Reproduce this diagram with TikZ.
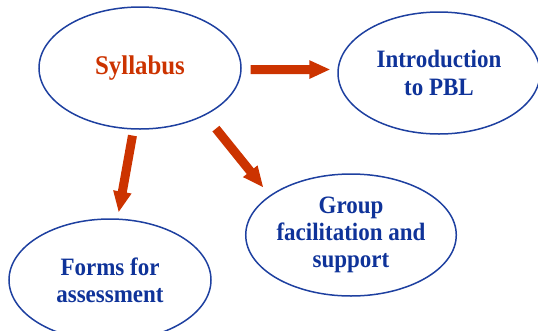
\documentclass[tikz,border=0pt]{standalone}
\usepackage{fontspec}
\setmainfont{Liberation Serif}[FakeStretch=0.92]
\usepackage{tikz}
\usetikzlibrary{arrows.meta, shapes.geometric, positioning}
\definecolor{sylred}{HTML}{CC3300}
\definecolor{topblue}{HTML}{0F3399}
\definecolor{ringblue}{HTML}{1E40A0}
\tikzstyle{topic} = [ellipse, draw=ringblue, line width=1.5pt, inner sep=0pt,
    minimum width=202pt, minimum height=122pt, text=topblue, align=center,
    font=\fontsize{25}{27.2}\selectfont\bfseries]
\tikzstyle{fatarrow} = [draw=sylred, line width=9pt,
    -{Triangle[width=17pt,length=21pt,fill=sylred]}]

\begin{document}
\begin{tikzpicture}[x=1pt,y=1pt]
	\useasboundingbox (0,0) rectangle (538,-330);

	% main topic
	\node [topic, text=sylred, font=\fontsize{27}{30}\selectfont\bfseries] at (140,-68) (syl) {Syllabus};

	% sub topics
	\node [topic] at (439,-73) (intro) {Introduction\\to PBL};
	\node [topic] at (351,-235) (group) {Group\\facilitation and\\support};
	\node [topic] at (110,-280) (forms) {Forms for\\assessment};

	% arrows
	\draw [fatarrow, shorten <=9pt, shorten >=7pt] (syl.-1) -- (intro.178);
	\draw [fatarrow, shorten <=17pt, shorten >=10pt] (syl.324) -- (group.154);
	\draw [fatarrow, shorten <=6pt, shorten >=6pt] (syl.264) -- (forms.83);
\end{tikzpicture}
\end{document}
